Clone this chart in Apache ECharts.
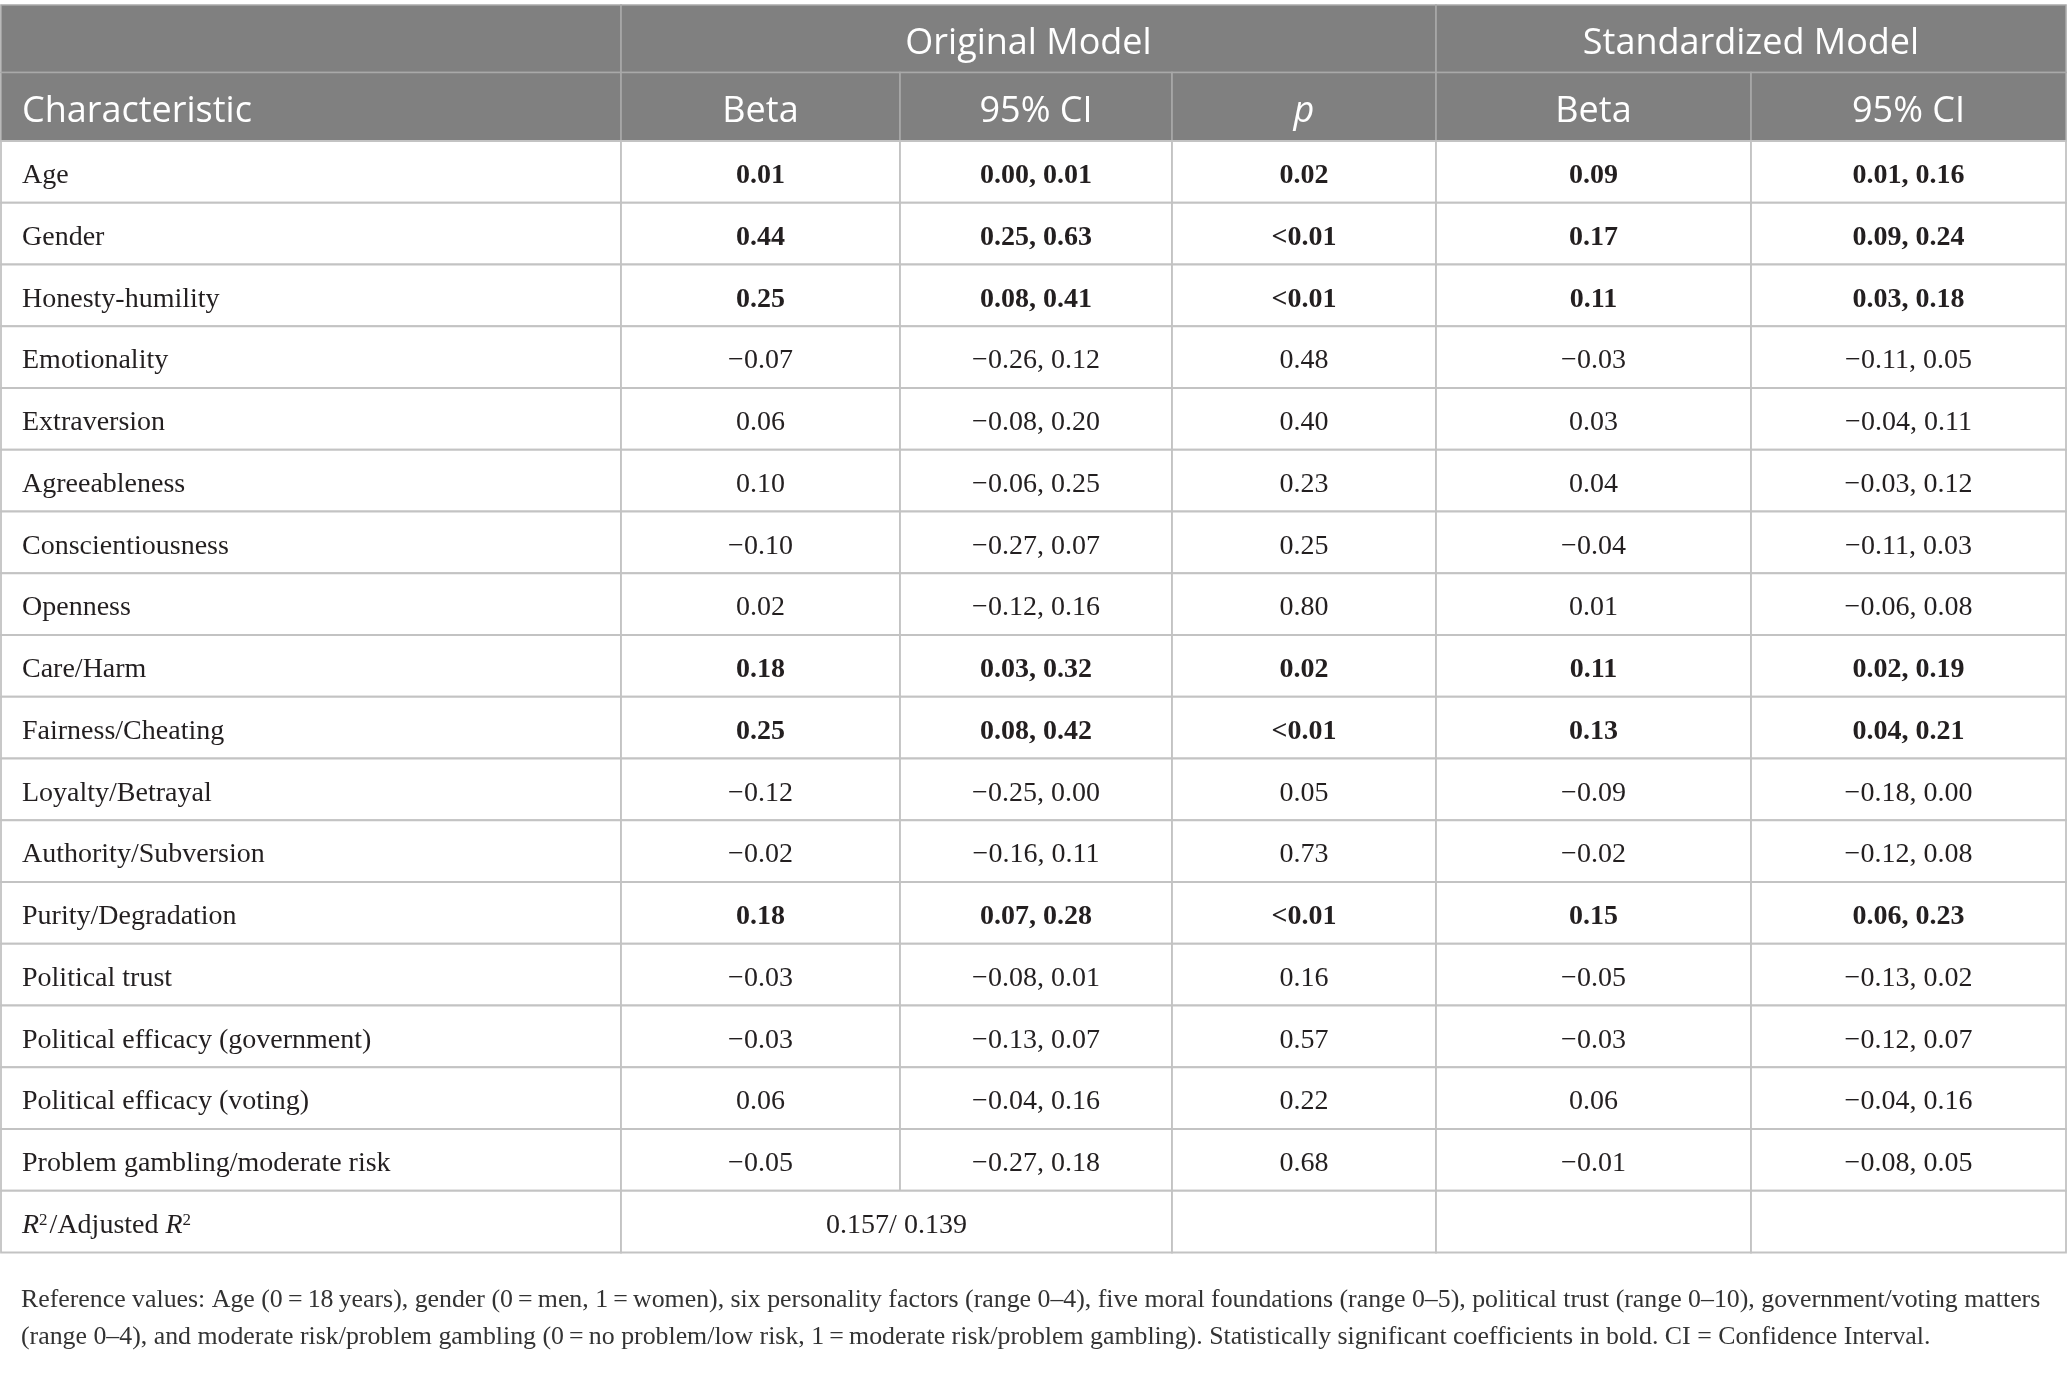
<!DOCTYPE html>
<html>
<head>
<meta charset="utf-8">
<title>Regression table</title>
<script src="https://cdn.jsdelivr.net/npm/echarts@6/dist/echarts.min.js"></script>
<style>
html,body{margin:0;padding:0;background:#fff}
#chart{width:2067px;height:1393px}
</style>
</head>
<body>
<div id="chart"></div>
<script>
// table content
var groupHeaders = ['Original Model', 'Standardized Model'];
var columnHeaders = ['Characteristic', 'Beta', '95% CI', 'p', 'Beta', '95% CI'];
var characteristics = ['Age', 'Gender', 'Honesty-humility', 'Emotionality', 'Extraversion',
    'Agreeableness', 'Conscientiousness', 'Openness', 'Care/Harm', 'Fairness/Cheating',
    'Loyalty/Betrayal', 'Authority/Subversion', 'Purity/Degradation', 'Political trust',
    'Political efficacy (government)', 'Political efficacy (voting)', 'Problem gambling/moderate risk'];
var origBeta   = [0.01, 0.44, 0.25, -0.07, 0.06, 0.10, -0.10, 0.02, 0.18, 0.25, -0.12, -0.02, 0.18, -0.03, -0.03, 0.06, -0.05];
var origCiLow  = [0.00, 0.25, 0.08, -0.26, -0.08, -0.06, -0.27, -0.12, 0.03, 0.08, -0.25, -0.16, 0.07, -0.08, -0.13, -0.04, -0.27];
var origCiHigh = [0.01, 0.63, 0.41, 0.12, 0.20, 0.25, 0.07, 0.16, 0.32, 0.42, 0.00, 0.11, 0.28, 0.01, 0.07, 0.16, 0.18];
var origP      = ['0.02', '<0.01', '<0.01', '0.48', '0.40', '0.23', '0.25', '0.80', '0.02', '<0.01', '0.05', '0.73', '<0.01', '0.16', '0.57', '0.22', '0.68'];
var stdBeta    = [0.09, 0.17, 0.11, -0.03, 0.03, 0.04, -0.04, 0.01, 0.11, 0.13, -0.09, -0.02, 0.15, -0.05, -0.03, 0.06, -0.01];
var stdCiLow   = [0.01, 0.09, 0.03, -0.11, -0.04, -0.03, -0.11, -0.06, 0.02, 0.04, -0.18, -0.12, 0.06, -0.13, -0.12, -0.04, -0.08];
var stdCiHigh  = [0.16, 0.24, 0.18, 0.05, 0.11, 0.12, 0.03, 0.08, 0.19, 0.21, 0.00, 0.08, 0.23, 0.02, 0.07, 0.16, 0.05];
var significant = [1, 1, 1, 0, 0, 0, 0, 0, 1, 1, 0, 0, 1, 0, 0, 0, 0];
var rSquared = '0.157';
var adjRSquared = '0.139';
var footnoteLines = [
    'Reference values: Age (0\u2009=\u200918\u2009years), gender (0\u2009=\u2009men, 1\u2009=\u2009women), six personality factors (range 0\u20134), five moral foundations (range 0\u20135), political trust (range 0\u201310), government/voting matters',
    '(range 0\u20134), and moderate risk/problem gambling (0\u2009=\u2009no problem/low risk, 1\u2009=\u2009moderate risk/problem gambling). Statistically significant coefficients in bold. CI = Confidence Interval.'
];

// layout
var W = 2067, H = 1393;
var colEdges = [1, 621, 900, 1172, 1436, 1751, 2066];
var rowEdges = [5, 72.5, 141];
for (var i = 0; i <= characteristics.length; i++) {
    rowEdges.push(141 + (i + 1) * 61.75);
}
var SERIF = '"Liberation Serif", "DejaVu Serif", serif';
var SANS = '"Open Sans", "Noto Sans", sans-serif';
var HEAD_BG = '#808080', HEAD_LINE = '#a9a9a9', BODY_LINE = '#c3c3c3', INK = '#231f20';

function fmt(v) {
    return (v < 0 ? '\u2212' : '') + Math.abs(v).toFixed(2);
}

// cells: [colFrom, colTo, rowFrom, rowTo]
var cells = [], cellInfo = [];
function addCell(c0, c1, r0, r1, info) {
    cells.push([c0, c1, r0, r1]);
    cellInfo.push(info);
}
addCell(0, 1, 0, 1, {head: true, text: ''});
addCell(1, 4, 0, 1, {head: true, text: groupHeaders[0]});
addCell(4, 6, 0, 1, {head: true, text: groupHeaders[1]});
for (var c = 0; c < columnHeaders.length; c++) {
    addCell(c, c + 1, 1, 2, {head: true, text: columnHeaders[c], italic: columnHeaders[c] === 'p', left: c === 0});
}
for (var r = 0; r < characteristics.length; r++) {
    var b = !!significant[r];
    var vals = [characteristics[r], fmt(origBeta[r]), fmt(origCiLow[r]) + ', ' + fmt(origCiHigh[r]),
        origP[r], fmt(stdBeta[r]), fmt(stdCiLow[r]) + ', ' + fmt(stdCiHigh[r])];
    for (c = 0; c < vals.length; c++) {
        addCell(c, c + 1, r + 2, r + 3, {text: vals[c], bold: b && c > 0, left: c === 0});
    }
}
var lastRow = characteristics.length + 2;
addCell(0, 1, lastRow, lastRow + 1, {rich: true, left: true,
    text: '{it|R}{sup|2}{n|/Adjusted }{it|R}{sup|2}'});
addCell(1, 3, lastRow, lastRow + 1, {text: rSquared + '/ ' + adjRSquared});
addCell(3, 4, lastRow, lastRow + 1, {text: ''});
addCell(4, 5, lastRow, lastRow + 1, {text: ''});
addCell(5, 6, lastRow, lastRow + 1, {text: ''});

function renderCell(params, api) {
    var info = cellInfo[params.dataIndex];
    var p0 = api.coord([colEdges[api.value(0)], rowEdges[api.value(2)]]);
    var p1 = api.coord([colEdges[api.value(1)], rowEdges[api.value(3)]]);
    var x = p0[0], y = p0[1], w = p1[0] - p0[0], h = p1[1] - p0[1];
    var children = [{
        type: 'rect',
        shape: {x: x, y: y, width: w, height: h},
        style: {fill: info.head ? HEAD_BG : '#fff', stroke: info.head ? HEAD_LINE : BODY_LINE, lineWidth: info.head ? 1.6 : 1.8}
    }];
    if (info.text) {
        var size = info.head ? 36 : 28;
        var fam = info.head ? SANS : SERIF;
        var tx = info.left ? x + 21 : x + w / 2;
        var style = {
            text: info.text,
            fill: info.head ? '#fff' : INK,
            font: (info.italic ? 'italic ' : '') + (info.bold ? 'bold ' : '') + size + 'px ' + fam,
            align: info.left ? 'left' : 'center',
            textAlign: info.left ? 'left' : 'center',
            verticalAlign: 'middle',
            textVerticalAlign: 'middle'
        };
        if (info.rich) {
            style.rich = {
                it: {fontFamily: fam, fontSize: size, fontStyle: 'italic', fill: INK, color: INK},
                n: {fontFamily: fam, fontSize: size, fill: INK, color: INK},
                sup: {fontFamily: fam, fontSize: 17, fill: INK, color: INK, verticalAlign: 'top', padding: [0, 2, 0, 0]}
            };
        }
        children.push({type: 'text', x: tx, y: y + h / 2 + (info.head ? 5 : 4), style: style});
    }
    return {type: 'group', children: children};
}

// footnote size fitted to the reference line width
var ctx = document.createElement('canvas').getContext('2d');
ctx.font = '24px ' + SERIF;
var footSize = 24 * 2020 / ctx.measureText(footnoteLines[0]).width;
footSize = Math.min(26, Math.max(18, footSize));

var chart = echarts.init(document.getElementById('chart'), null, {renderer: 'canvas'});
chart.setOption({
    backgroundColor: '#fff',
    animation: false,
    grid: {left: 0, right: 0, top: 0, bottom: 0},
    xAxis: {type: 'value', min: 0, max: W, show: false},
    yAxis: {type: 'value', min: 0, max: H, inverse: true, show: false},
    series: [{
        type: 'custom',
        coordinateSystem: 'cartesian2d',
        renderItem: renderCell,
        encode: {x: [0, 1], y: [2, 3]},
        data: cells,
        silent: true
    }],
    graphic: footnoteLines.map(function (line, k) {
        return {
            type: 'text', left: 21, top: 1287 + k * 37,
            style: {text: line, font: footSize + 'px ' + SERIF, fill: '#333'}
        };
    })
});
</script>
</body>
</html>
